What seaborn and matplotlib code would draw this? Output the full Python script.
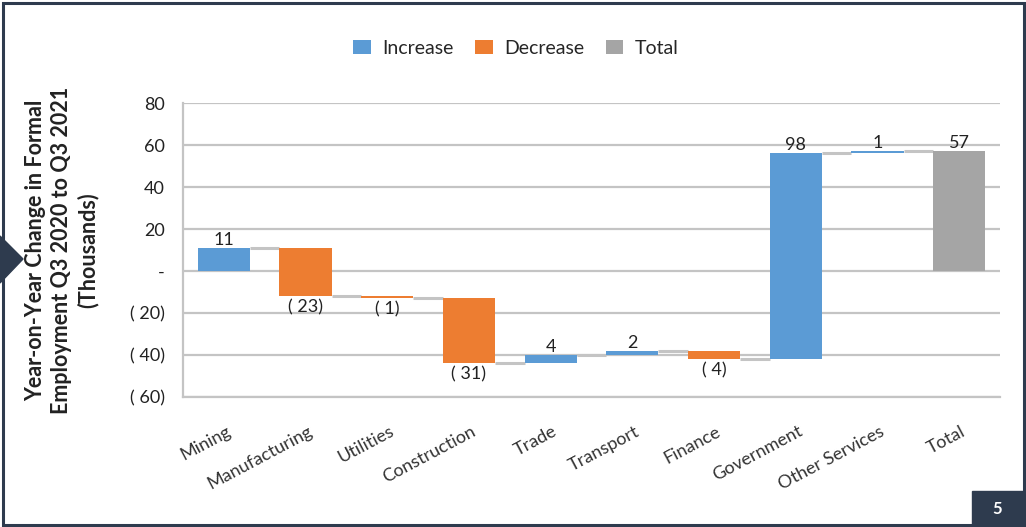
import numpy as np
import pandas as pd
import seaborn as sns
import matplotlib.pyplot as plt
from matplotlib.patches import Rectangle, Polygon, Patch
from matplotlib.ticker import FuncFormatter, MultipleLocator
from matplotlib.transforms import ScaledTranslation

# data (thousands)
categories = ["Mining", "Manufacturing", "Utilities", "Construction", "Trade",
              "Transport", "Finance", "Government", "Other Services", "Total"]
changes = [11, -23, -1, -31, 4, 2, -4, 98, 1]
total = 57

colors = {"Increase": "#5b9bd5", "Decrease": "#ed7d31", "Total": "#a5a5a5"}
navy = "#2e3b4e"

# ========= waterfall table =========
ends = np.cumsum(changes)
starts = np.concatenate([[0], ends[:-1]])
df = pd.DataFrame({
    "category": categories,
    "start": list(starts) + [0],
    "delta": changes + [total],
    "kind": ["Increase" if c > 0 else "Decrease" for c in changes] + ["Total"],
})
df["end"] = df["start"] + df["delta"]

sns.set_style("white")
plt.rcParams["font.family"] = ["Lato", "DejaVu Sans"]

fig = plt.figure(figsize=(10.26, 5.27), dpi=100)
ax = fig.add_axes([183 / 1026, 1 - 397 / 527, 817 / 1026, 294 / 527])

bar_w = 0.64
for kind in ["Increase", "Decrease", "Total"]:
    sub = df[df["kind"] == kind]
    sns.barplot(data=sub, x="category", y="delta", order=categories,
                bottom=sub["start"].to_numpy(), color=colors[kind],
                width=bar_w, saturation=1, linewidth=0, ax=ax, zorder=3)

# connectors between bars
pos = np.arange(len(categories))
levels = df["end"].to_numpy()[:-1]
ax.hlines(levels, pos[:-1] + bar_w / 2, pos[1:] - bar_w / 2,
          color="#c4c4c4", lw=2.2, zorder=2)

# value labels
def fmt(v):
    return f"( {abs(v):.0f})" if v < 0 else f"{v:.0f}"

for i, row in df.iterrows():
    if row["delta"] >= 0:
        ax.annotate(fmt(row["delta"]), (i, row["end"]), xytext=(0, 0),
                    textcoords="offset points", ha="center", va="bottom",
                    fontsize=13, color="#222222")
    else:
        ax.annotate(fmt(row["delta"]), (i, row["end"]), xytext=(0, -2),
                    textcoords="offset points", ha="center", va="top",
                    fontsize=13, color="#222222")

# axes styling
ax.set_xlim(-0.5, len(categories) - 0.5)
ax.set_ylim(-60, 80)
ax.yaxis.set_major_locator(MultipleLocator(20))
ax.yaxis.set_major_formatter(FuncFormatter(
    lambda v, p: "-" if v == 0 else (f"( {abs(v):.0f})" if v < 0 else f"{v:.0f}")))
ax.grid(axis="y", color="#c4c4c4", lw=1.6, zorder=0)
ax.set_axisbelow(True)
for s in ["top", "right"]:
    ax.spines[s].set_visible(False)
for s in ["left", "bottom"]:
    ax.spines[s].set_color("#c4c4c4")
    ax.spines[s].set_linewidth(1.6)
ax.set_xlabel("")
ax.set_ylabel("")
ax.tick_params(axis="y", labelsize=13, pad=13, length=0, labelcolor="#222222")
ax.tick_params(axis="x", length=0, pad=24)
ax.set_xticks(pos)
ax.set_xticklabels(categories, rotation=28, ha="right", va="center",
                   rotation_mode="anchor", fontsize=13, color="#333333")
shift = ScaledTranslation(4 / 72, 0, fig.dpi_scale_trans)
for lbl in ax.get_xticklabels():
    lbl.set_transform(lbl.get_transform() + shift)

fig.text(62 / 1026, 1 - 250 / 527,
         "Year-on-Year Change in Formal\nEmployment Q3 2020 to Q3 2021\n(Thousands)",
         rotation=90, ha="center", va="center", fontsize=15.5, fontweight="bold",
         color="#222222", linespacing=1.3)

handles = [Patch(facecolor=colors[k], edgecolor="none") for k in colors]
fig.legend(handles, list(colors), loc="center", bbox_to_anchor=(516 / 1026, 1 - 48 / 527),
           ncol=3, frameon=False, fontsize=14, handlelength=0.9, handleheight=0.75,
           columnspacing=1.1, handletextpad=0.6)

# slide decorations
fig.add_artist(Rectangle((2.5 / 1026, 2.5 / 527), 1021 / 1026, 522 / 527,
                         transform=fig.transFigure, fill=False, edgecolor=navy, lw=2.2))
fig.add_artist(Polygon([(0, 1 - 236 / 527), (23 / 1026, 1 - 259 / 527), (0, 1 - 283 / 527)],
                       closed=True, transform=fig.transFigure, color=navy))
fig.add_artist(Rectangle((972 / 1026, 0), 51 / 1026, 36 / 527,
                         transform=fig.transFigure, color=navy))
fig.text(997 / 1026, 18 / 527, "5", color="white", fontsize=12, fontweight="bold",
         ha="center", va="center")

fig.savefig("out.png", dpi=100)
